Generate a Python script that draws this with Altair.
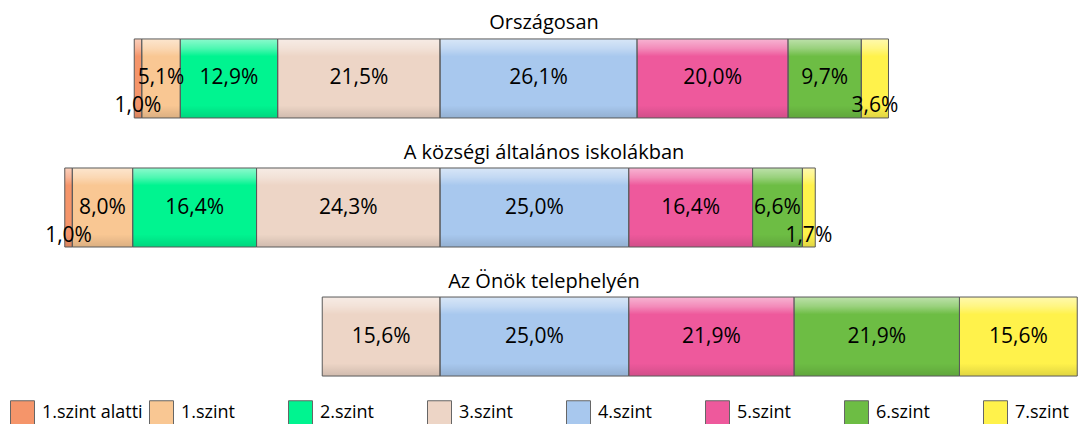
import altair as alt
import pandas as pd

groups = ["Országosan", "A községi általános iskolákban", "Az Önök telephelyén"]
levels = ["1.szint alatti", "1.szint", "2.szint", "3.szint",
          "4.szint", "5.szint", "6.szint", "7.szint"]
colors = ["#F5956A", "#F9C793", "#00F490", "#EDD5C6",
          "#A8C8EE", "#EE599C", "#6DBD44", "#FFF24B"]

orszagosan = [1.0, 5.1, 12.9, 21.5, 26.1, 20.0, 9.7, 3.6]
kozsegi = [1.0, 8.0, 16.4, 24.3, 25.0, 16.4, 6.6, 1.7]
telephely = [0.0, 0.0, 0.0, 15.6, 25.0, 21.9, 21.9, 15.6]

series = [orszagosan, kozsegi, telephely]

rows = []
for g, vals in zip(groups, series):
    left = sum(vals[:4])  # levels below 4.szint go to the left of the centre
    cum = -left
    for i, (lev, v) in enumerate(zip(levels, vals)):
        start, end = cum, cum + v
        cum = end
        if v > 0:
            rows.append(dict(group=g, level=lev, order=i, value=v,
                             start=start, end=end, mid=(start + end) / 2,
                             label=f"{v:.1f}%".replace(".", ",")))
df = pd.DataFrame(rows)

W, H = 1070, 399
xscale = alt.Scale(domain=[-57.22, 84.5], nice=False, zero=False)
yscale = alt.Scale(domain=groups, paddingInner=0.3876, paddingOuter=0.24)

base = alt.Chart(df).encode(y=alt.Y("group:N", scale=yscale, axis=None))

bars = base.mark_bar(strokeWidth=0).encode(
    x=alt.X("start:Q", scale=xscale, axis=None),
    x2="end:Q",
    color=alt.Color(
        "level:N",
        scale=alt.Scale(domain=levels, range=colors),
        legend=alt.Legend(
            orient="none", legendX=2, legendY=392, direction="horizontal",
            columns=8, title=None, symbolType="square", symbolSize=576,
            symbolStrokeColor="#666666", symbolStrokeWidth=1, symbolOpacity=1,
            labelFontSize=18, labelFont="Open Sans", labelColor="#000000",
            labelOffset=7, columnPadding=4, gridAlign="all", labelLimit=200,
        ),
    ),
    order=alt.Order("order:Q"),
)

gloss = alt.Gradient(
    gradient="linear", x1=0, y1=0, x2=0, y2=1,
    stops=[
        alt.GradientStop(color="rgba(255,255,255,0.55)", offset=0),
        alt.GradientStop(color="rgba(255,255,255,0.30)", offset=0.12),
        alt.GradientStop(color="rgba(255,255,255,0)", offset=0.22),
        alt.GradientStop(color="rgba(0,0,0,0)", offset=0.84),
        alt.GradientStop(color="rgba(0,0,0,0.12)", offset=1),
    ],
)

shine = base.mark_bar(fill=gloss, stroke="#5a5a5a", strokeWidth=1).encode(
    x=alt.X("start:Q", scale=xscale, axis=None),
    x2="end:Q",
)

labels_big = base.transform_filter("datum.value >= 4").mark_text(
    font="Open Sans", fontSize=21, color="#000000", baseline="middle"
).encode(x=alt.X("mid:Q", scale=xscale, axis=None), text="label:N")

labels_small = base.transform_filter("datum.value < 4").mark_text(
    font="Open Sans", fontSize=21, color="#000000", baseline="middle", dy=28
).encode(x=alt.X("mid:Q", scale=xscale, axis=None), text="label:N")

titles = alt.Chart(pd.DataFrame({"group": groups})).mark_text(
    font="Open Sans", fontSize=20, color="#000000", baseline="middle", dy=-55
).encode(
    y=alt.Y("group:N", scale=yscale, axis=None),
    x=alt.value(536),
    text="group:N",
)

chart = alt.layer(bars, shine, labels_big, labels_small, titles).properties(
    width=W, height=H,
    autosize=alt.AutoSizeParams(type="none"),
    padding={"left": 0, "right": 0, "top": 0, "bottom": 17},
).configure_view(stroke=None)

chart.save("out.html", embed_options={"renderer": "svg", "actions": False})
